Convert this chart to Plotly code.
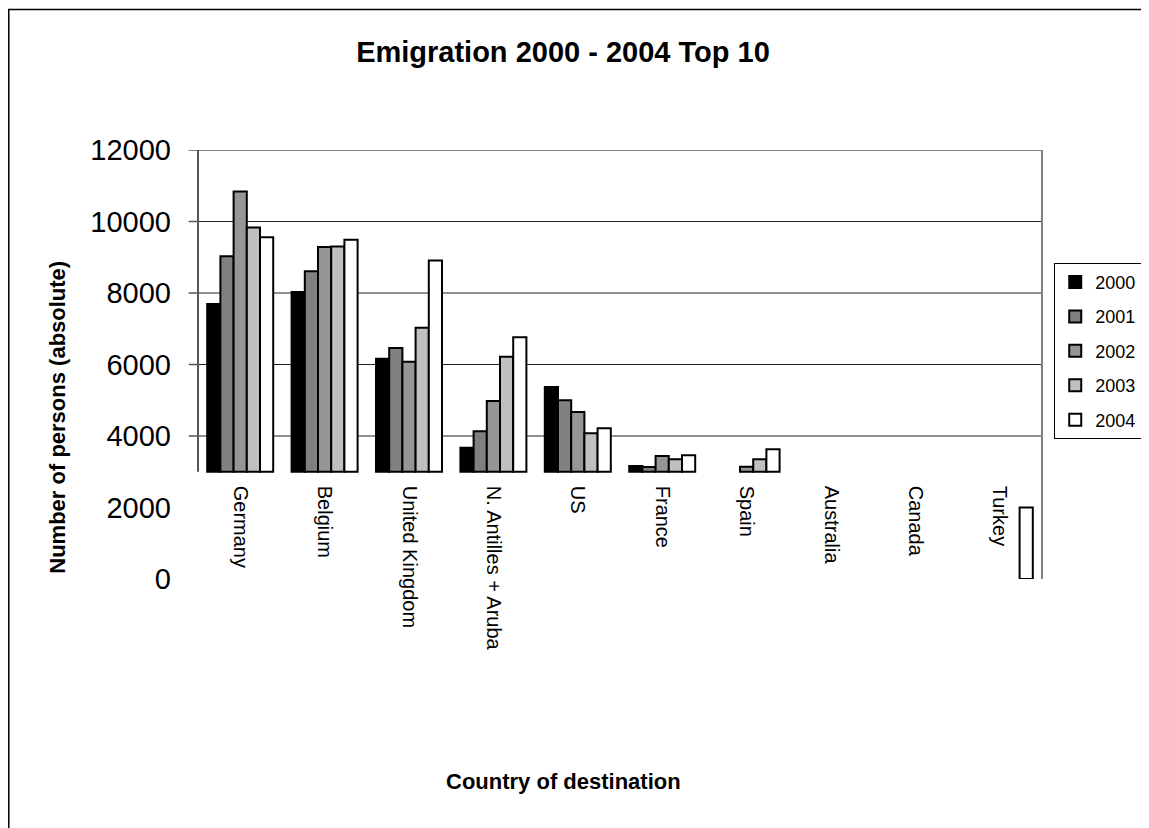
import plotly.graph_objects as go

# emigration by country of destination, persons (absolute)
countries = ["Germany", "Belgium", "United Kingdom", "N. Antilles + Aruba", "US",
             "France", "Spain", "Australia", "Canada", "Turkey"]
years = ["2000", "2001", "2002", "2003", "2004"]

v2000 = [7690, 8030, 6160, 3670, 5370, 3160, None, None, None, None]
v2001 = [9030, 8610, 6460, 4130, 5000, 3130, None, None, None, None]
v2002 = [10840, 9290, 6080, 4980, 4670, 3440, 3140, None, None, None]
v2003 = [9830, 9300, 7030, 6220, 4080, 3350, 3350, None, None, None]
v2004 = [9560, 9490, 8910, 6760, 4220, 3460, 3630, None, None, 2000]

# value axis crosses at 3000; the Turkey 2004 bar was drawn from 0 in the original
base2004 = [3000] * 9 + [0]

y_ticks = [0, 2000, 4000, 6000, 8000, 10000, 12000]
grid_ticks = [4000, 6000, 8000, 10000, 12000]
axis_cross = 3000

colors = ["#000000", "#808080", "#969696", "#c0c0c0", "#ffffff"]
series = [v2000, v2001, v2002, v2003, v2004]
bases = [[axis_cross] * 10] * 4 + [base2004]

FONT = "Liberation Sans, Arial, sans-serif"

fig = go.Figure()
for name, vals, col, b in zip(years, series, colors, bases):
    heights = [None if v is None else v - bb for v, bb in zip(vals, b)]
    fig.add_trace(go.Bar(
        x=countries, y=heights, base=b, name=name, legendgroup=name,
        marker=dict(color=col, line=dict(color="black", width=2)),
    ))

# gridlines and tick marks for the visible part of the value axis
for t in grid_ticks:
    fig.add_shape(type="line", xref="paper", yref="y", x0=0, x1=1, y0=t, y1=t,
                  line=dict(color="#222222", width=1), layer="below")
    fig.add_shape(type="line", xref="paper", yref="y", x0=-0.011, x1=0, y0=t, y1=t,
                  line=dict(color="#555555", width=1.5))

# plot area frame
fig.add_shape(type="line", xref="paper", yref="y", x0=0, x1=1, y0=12000, y1=12000,
              line=dict(color="#808080", width=2))
fig.add_shape(type="line", xref="paper", yref="y", x0=1, x1=1, y0=12000, y1=-250,
              line=dict(color="#808080", width=2))
fig.add_shape(type="line", xref="paper", yref="y", x0=0, x1=0, y0=12000, y1=axis_cross,
              line=dict(color="#555555", width=2))

# chart area border (runs off the right and bottom of the picture)
fig.add_shape(type="rect", xref="paper", yref="paper", x0=-0.2242, x1=1.3, y0=-1.0, y1=1.3275,
              line=dict(color="black", width=1.5), layer="below")

fig.add_annotation(text="<b>Number of persons (absolute)</b>", xref="paper", yref="paper",
                   x=-0.166, y=0.378, xanchor="center", yanchor="middle",
                   textangle=-90, showarrow=False,
                   font=dict(family=FONT, size=22, color="black"))
fig.add_annotation(text="<b>Country of destination</b>", xref="paper", yref="paper",
                   x=0.433, y=-0.473, xanchor="center", yanchor="middle", showarrow=False,
                   font=dict(family=FONT, size=22, color="black"))

# the page body adds an 8px margin, so the figure is 8px smaller and shifted
fig.update_layout(
    width=1141, height=820,
    margin=dict(l=190, r=107, t=142, b=249, autoexpand=False),
    paper_bgcolor="white", plot_bgcolor="white",
    title=dict(text="<b>Emigration 2000 - 2004 Top 10</b>", xref="container", yref="container",
               x=0.4864, y=0.9463, xanchor="center", yanchor="middle",
               font=dict(family=FONT, size=29, color="black")),
    barmode="group", bargap=0.218, bargroupgap=0,
    showlegend=True,
    legend=dict(x=1.0145, y=0.737, xanchor="left", yanchor="top",
                bordercolor="black", borderwidth=1, bgcolor="white",
                font=dict(family=FONT, size=18, color="black"),
                itemwidth=30, tracegroupgap=8, traceorder="grouped"),
    xaxis=dict(anchor="free", position=axis_cross / 12000, showline=False, ticks="",
               tickangle=90, ticklabelstandoff=13, showgrid=False, zeroline=False,
               tickfont=dict(family=FONT, size=20, color="black")),
    yaxis=dict(range=[0, 12000], tickvals=y_ticks, ticktext=[str(t) for t in y_ticks],
               showgrid=False, zeroline=False, showline=False, ticks="",
               ticklabelstandoff=26,
               tickfont=dict(family=FONT, size=29, color="black")),
)

fig.write_html("out.html")
